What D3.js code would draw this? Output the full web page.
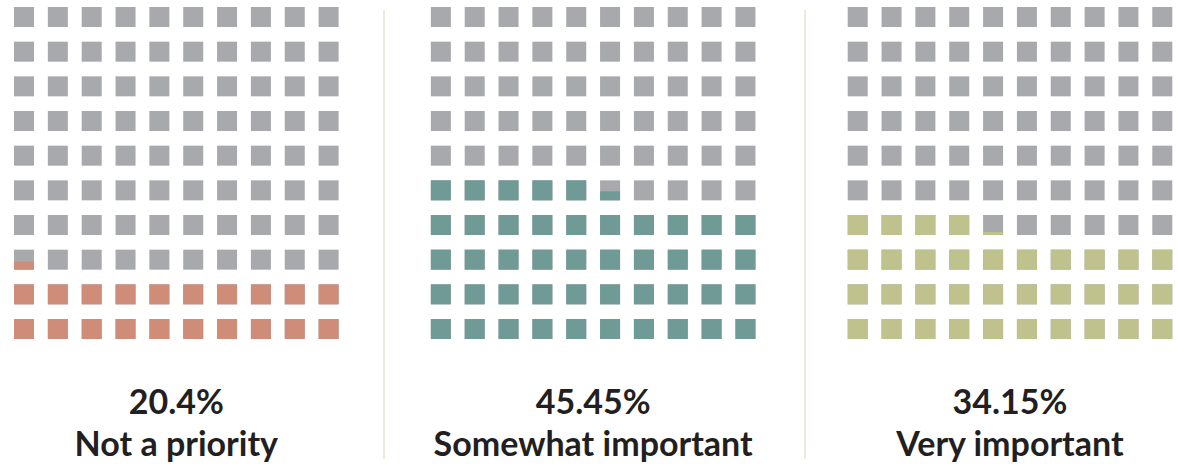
<!DOCTYPE html>
<html>
<head>
<meta charset="utf-8">
<script src="https://cdn.jsdelivr.net/npm/d3@7"></script>
<style>
  body { margin: 0; background: #fff; }
  svg { display: block; }
  text { font-family: Lato, "Open Sans", sans-serif; font-weight: 700; fill: #231f20; }
</style>
</head>
<body>
<div id="chart"></div>
<script>
// waffle data
const categories = ["Not a priority", "Somewhat important", "Very important"]
const percents = [20.4, 45.45, 34.15]
const percentLabels = ["20.4%", "45.45%", "34.15%"]
const colors = ["#ce8c79", "#6f9a96", "#bfc28c"]

const width = 1178, height = 464
const emptyColor = "#a8a9ad"
const cell = 20

const svg = d3.select("#chart").append("svg")
    .attr("width", width)
    .attr("height", height)

// panel positions
const panelX = d3.scaleLinear().domain([0, 1]).range([14, 430.85])
const colX = d3.scaleLinear().domain([0, 9]).range([0, 304.6])
const rowY = d3.scaleLinear().domain([0, 9]).range([319, 7]) // row 0 = bottom

const panels = svg.selectAll("g.panel")
    .data(categories.map((c, i) => ({ name: c, pct: percents[i], label: percentLabels[i], color: colors[i], i: i })))
    .enter().append("g")
    .attr("class", "panel")
    .attr("transform", d => `translate(${panelX(d.i)},0)`)

panels.each(function(p) {
    const g = d3.select(this)
    const cells = d3.range(100).map(k => {
        const fill = Math.max(0, Math.min(1, p.pct - k))
        return { row: Math.floor(k / 10), col: k % 10, fill: fill }
    })

    // grey base
    g.selectAll("rect.base")
        .data(cells)
        .enter().append("rect")
        .attr("class", "base")
        .attr("x", d => colX(d.col))
        .attr("y", d => rowY(d.row))
        .attr("width", cell)
        .attr("height", cell)
        .attr("fill", emptyColor)

    // coloured part, filled from the bottom
    g.selectAll("rect.fill")
        .data(cells.filter(d => d.fill > 0))
        .enter().append("rect")
        .attr("class", "fill")
        .attr("x", d => colX(d.col))
        .attr("y", d => rowY(d.row) + cell * (1 - d.fill))
        .attr("width", cell)
        .attr("height", d => cell * d.fill)
        .attr("fill", p.color)

    const cx = colX(9) / 2 + cell / 2
    g.append("text")
        .attr("x", cx)
        .attr("y", 414)
        .attr("text-anchor", "middle")
        .style("font-size", "34px")
        .text(p.label)
    g.append("text")
        .attr("x", cx)
        .attr("y", 456)
        .attr("text-anchor", "middle")
        .style("font-size", "34px")
        .text(p.name)
})

// dividers between panels
svg.selectAll("line.divider")
    .data([384, 805])
    .enter().append("line")
    .attr("class", "divider")
    .attr("x1", d => d)
    .attr("x2", d => d)
    .attr("y1", 10)
    .attr("y2", 459)
    .attr("stroke", "#e7e3d1")
    .attr("stroke-width", 1.5)
</script>
</body>
</html>
